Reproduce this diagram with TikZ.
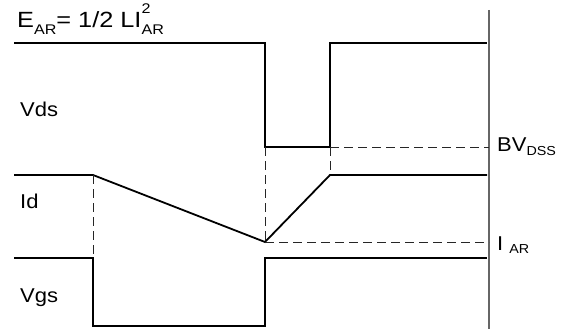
\documentclass[tikz,border=0pt]{standalone}
\usepackage{fontspec}
\setmainfont{Liberation Sans}
\usetikzlibrary{positioning}
\newcommand{\wide}[2][1.1]{\scalebox{#1}[1]{#2}}
\newcommand{\lowsub}[3][4pt]{\raisebox{-#1}{\fontsize{#2}{#2}\selectfont #3}}

\begin{document}
\begin{tikzpicture}[
    x=1pt, y=-1pt,
    wave/.style={line width=1.8pt, black},
    guide/.style={line width=0.9pt, black!85, dash pattern=on 9pt off 5pt},
    axisline/.style={line width=1.8pt, black!60},
    lbl/.style={font=\fontsize{20}{20}\selectfont, inner sep=0pt, anchor=base west}
]
\useasboundingbox (0,0) rectangle (563,329);

% Corner points
\coordinate (vdsdrop) at (265,147);
\coordinate (vdsrise) at (330,147);
\coordinate (idfall) at (93,175);
\coordinate (idmin) at (265,242);
\coordinate (idtop) at (330,175);
\coordinate (vgstop) at (93,258);
\coordinate (axtop) at (489,10);
\coordinate (axbot) at (489,329);

% Vertical axis
\draw[axisline] (axtop) -- (axbot);

% Vds
\draw[wave] (14,43) -- (265,43) -- (vdsdrop) -- (vdsrise) -- (330,43) -- (487,43);
% Id
\draw[wave] (14,175) -- (idfall) -- (idmin) -- (idtop) -- (487,175);
% Vgs
\draw[wave] (14,258) -- (vgstop) -- (93,326) -- (265,326) -- (265,258) -- (487,258);

% Dashed guides
\draw[guide] (idfall) -- (vgstop);
\draw[guide] (vdsdrop) -- (idmin);
\draw[guide] (vdsrise) -- (idtop);
\draw[guide] (vdsrise) -- (axtop |- vdsrise);
\draw[guide] (idmin) -- (axtop |- idmin);

% Labels
\node[lbl, font=\fontsize{22}{22}\selectfont] (energy) at (17,28) {\wide[1.15]{E\lowsub[7pt]{14}{AR}= 1/2 LI\rlap{\raisebox{14pt}{\fontsize{14}{14}\selectfont 2}}\lowsub[7pt]{14}{AR}}};
\node[lbl] (vds) at (20,117) {\wide{Vds}};
\node[lbl] (id) at (20,208) {\wide{Id}};
\node[lbl] (vgs) at (20,302) {\wide{Vgs}};
\node[lbl] (bvdss) at (497,152) {\wide{BV\lowsub[3pt]{13}{DSS}}};
\node[lbl] (iar) at (497,250) {\wide{I \lowsub[3pt]{13}{AR}}};

\end{tikzpicture}
\end{document}
